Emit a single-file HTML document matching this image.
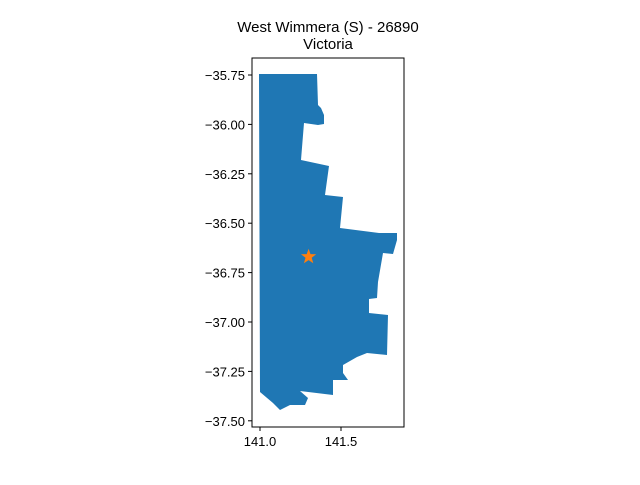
<!DOCTYPE html>
<html><head><meta charset="utf-8"><style>body{margin:0;background:#fff}svg{font-family:"Liberation Sans","DejaVu Sans",sans-serif}</style></head>
<body>
<svg width="640" height="480">
<text x="328" y="32" font-size="15" text-anchor="middle">West Wimmera (S) - 26890</text>
<text x="328" y="49" font-size="15" text-anchor="middle">Victoria</text>
<polygon fill="#1f77b4" points="259,74 317,74 318,105 321,108 324,115 324,124 318,125 304,123 301,160 329,166 325,195 343,197 340,228 379,233 397,233 397,240 393,254 383,253 378,282 377,298 369,299 369,313 388,315 387,355 367,353 357,357 343,365 343,373 348,380 333,380 333,395 300,391 308,398 305,405 290,405 280,410 273,403 260,392"/>
<g id="star"></g>
<rect x="252" y="58" width="152" height="369" fill="none" stroke="#000" stroke-width="1"/>
<g id="yt"></g>
<g id="xt"></g>
</svg>
<script>
const yTicks=[-35.75,-36.00,-36.25,-36.50,-36.75,-37.00,-37.25,-37.50];
const xTicks=[141.0,141.5];
const markerLon=[141.30];
const markerLat=[-36.67];
const ns="http://www.w3.org/2000/svg";
const Y=v=>75+(-35.75-v)*197.6;
const X=v=>260+(v-141.0)*162;
const yg=document.getElementById('yt'),xg=document.getElementById('xt');
yTicks.forEach(v=>{
 const l=document.createElementNS(ns,'line');
 
 
 l.setAttribute('x1',248);l.setAttribute('x2',252);l.setAttribute('y1',Y(v));l.setAttribute('y2',Y(v));l.setAttribute('stroke','#000');yg.appendChild(l);
 const t=document.createElementNS(ns,'text');
 
 
 t.setAttribute('x',245);t.setAttribute('y',Y(v)+5);t.setAttribute('font-size','13');t.setAttribute('text-anchor','end');
 t.textContent='\u2212'+Math.abs(v).toFixed(2);yg.appendChild(t);
});
xTicks.forEach(v=>{
 const l=document.createElementNS(ns,'line');
 
 
 l.setAttribute('x1',X(v));l.setAttribute('x2',X(v));l.setAttribute('y1',427);l.setAttribute('y2',431);l.setAttribute('stroke','#000');xg.appendChild(l);
 const t=document.createElementNS(ns,'text');
 
 
 t.setAttribute('x',X(v));t.setAttribute('y',446);t.setAttribute('font-size','13');t.setAttribute('text-anchor','middle');
 t.textContent=v.toFixed(1);xg.appendChild(t);
});
const sg=document.getElementById('star');
markerLon.forEach((lon,i)=>{
 const cx=X(lon),cy=Y(markerLat[i]);let p=[];
 for(let k=0;k<10;k++){const r=k%2?3.3:8,a=-Math.PI/2+k*Math.PI/5;p.push((cx+r*Math.cos(a)).toFixed(1)+','+(cy+r*Math.sin(a)).toFixed(1));}
 const s=document.createElementNS(ns,'polygon');
 
 
 s.setAttribute('points',p.join(' '));s.setAttribute('fill','#ff7f0e');sg.appendChild(s);
});
</script>
</body></html>
